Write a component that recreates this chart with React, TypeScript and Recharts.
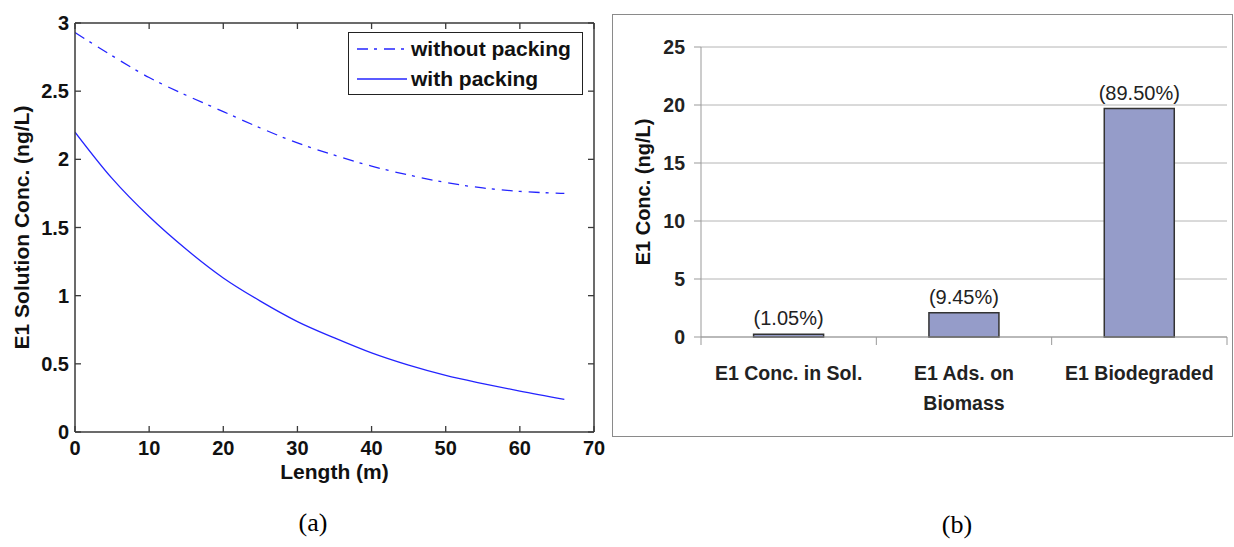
import React from "react";
import {
  Bar,
  BarChart,
  CartesianGrid,
  Label,
  LabelList,
  Legend,
  Line,
  LineChart,
  XAxis,
  YAxis,
} from "recharts";

// (a) concentration along the column
const lengthM = [0, 5, 10, 15, 20, 25, 30, 35, 40, 45, 50, 55, 60, 66];
const withoutPacking = [2.93, 2.76, 2.6, 2.47, 2.35, 2.23, 2.12, 2.03, 1.95, 1.885, 1.83, 1.79, 1.765, 1.75];
const withPacking = [2.2, 1.86, 1.58, 1.34, 1.13, 0.96, 0.81, 0.69, 0.58, 0.49, 0.415, 0.355, 0.3, 0.24];
const lengthTicks = [0, 10, 20, 30, 40, 50, 60, 70];
const concTicks = [0, 0.5, 1, 1.5, 2, 2.5, 3];
const seriesOrder = ["without", "with"];

// (b) mass balance ("\n" = line break in the axis label)
const categories = ["E1 Conc. in Sol.", "E1 Ads. on\nBiomass", "E1 Biodegraded"];
const e1Conc = [0.23, 2.08, 19.69];
const shareLabels = ["(1.05%)", "(9.45%)", "(89.50%)"];
const barTicks = [0, 5, 10, 15, 20, 25];

const lineData = lengthM.map((length, i) => ({
  length,
  without: withoutPacking[i],
  with: withPacking[i],
}));

const barData = categories.map((name, i) => ({
  name,
  value: e1Conc[i],
  share: shareLabels[i],
}));

const FONT = "Arial, 'Liberation Sans', Helvetica, sans-serif";
const AXIS = "#3a3a3a";
const BLUE = "#2424ff";
const DASH = "11 6 3 7";
const BAND = 526 / 3;

// matlab-style frame: tick marks point into the plot (negative tickSize),
// labels pushed back out with tickMargin
const inwardLine = { stroke: AXIS, strokeWidth: 1.3 };
const frameLine = { stroke: AXIS, strokeWidth: 1.5 };
const tickFont = { fontFamily: FONT, fontWeight: "bold", fontSize: 20, fill: "#111" };

function EmptyTick() {
  return <g />;
}

function PackingLegend({ payload }: any) {
  const items = [...(payload || [])].sort(
    (a: any, b: any) => seriesOrder.indexOf(a.dataKey) - seriesOrder.indexOf(b.dataKey),
  );
  return (
    <div
      style={{
        width: 235,
        height: 63,
        boxSizing: "border-box",
        border: "1.5px solid #222",
        background: "#fff",
        padding: "1px 0 0 8px",
      }}
    >
      {items.map((entry: any) => (
        <div key={entry.value} style={{ display: "flex", alignItems: "center", height: 30 }}>
          <svg width={50} height={10} style={{ marginRight: 4 }}>
            <line
              x1={0}
              x2={50}
              y1={5}
              y2={5}
              stroke={BLUE}
              strokeWidth={1.3}
              strokeDasharray={entry.payload?.strokeDasharray}
            />
          </svg>
          <span style={{ fontFamily: FONT, fontWeight: "bold", fontSize: 21, color: "#111" }}>{entry.value}</span>
        </div>
      ))}
    </div>
  );
}

function VerticalTitle({ viewBox, value, dx, size }: any) {
  const vb = viewBox || { x: 0, y: 0, width: 0, height: 0 };
  const cx = vb.x + dx;
  const cy = vb.y + vb.height / 2;
  return (
    <text
      x={cx}
      y={cy}
      transform={`rotate(-90 ${cx} ${cy})`}
      textAnchor="middle"
      dominantBaseline="central"
      fontFamily={FONT}
      fontWeight="bold"
      fontSize={size}
      fill="#111"
    >
      {value}
    </text>
  );
}

function LengthTitle({ viewBox }: any) {
  const vb = viewBox || { x: 0, y: 0, width: 0, height: 0 };
  return (
    <text x={vb.x + vb.width / 2} y={vb.y + 47} textAnchor="middle" fontFamily={FONT} fontWeight="bold" fontSize={21} fill="#111">
      Length (m)
    </text>
  );
}

function CategoryTick({ x, y, payload, index }: any) {
  const lines = String(payload.value).split("\n");
  return (
    <g>
      <line x1={x + BAND / 2} x2={x + BAND / 2} y1={y} y2={y + 8} stroke="#999" />
      {index === 0 && <line x1={x - BAND / 2} x2={x - BAND / 2} y1={y} y2={y + 8} stroke="#999" />}
      <text x={x} y={y + 43} textAnchor="middle" fontFamily={FONT} fontWeight="bold" fontSize={19.5} fill="#222">
        {lines.map((ln, i) => (
          <tspan key={i} x={x} dy={i === 0 ? 0 : 30}>
            {ln}
          </tspan>
        ))}
      </text>
    </g>
  );
}

export default function App() {
  return (
    <div style={{ position: "absolute", left: 0, top: 0, width: 1234, height: 547, background: "#fff", overflow: "hidden" }}>
      <div style={{ position: "absolute", left: 0, top: 0 }}>
        <LineChart width={610} height={500} data={lineData} margin={{ top: 22, right: 15, bottom: 0, left: 0 }}>
          <XAxis
            xAxisId="b"
            dataKey="length"
            type="number"
            domain={[0, 70]}
            ticks={lengthTicks}
            allowDataOverflow
            interval={0}
            height={68}
            tickSize={-6}
            tickMargin={9}
            tickLine={inwardLine}
            axisLine={frameLine}
            tick={{ ...tickFont, dy: 6 }}
          >
            <Label content={<LengthTitle />} />
          </XAxis>
          <XAxis
            xAxisId="t"
            orientation="top"
            dataKey="length"
            type="number"
            domain={[0, 70]}
            ticks={lengthTicks}
            allowDataOverflow
            interval={0}
            height={1}
            tickSize={-6}
            tickLine={inwardLine}
            axisLine={frameLine}
            tick={<EmptyTick />}
          />
          <YAxis
            yAxisId="l"
            type="number"
            domain={[0, 3]}
            ticks={concTicks}
            allowDataOverflow
            interval={0}
            width={75}
            tickSize={-6}
            tickMargin={12}
            tickLine={inwardLine}
            axisLine={frameLine}
            tick={tickFont}
          >
            <Label content={<VerticalTitle value="E1 Solution Conc. (ng/L)" dx={21} size={21} />} />
          </YAxis>
          <YAxis
            yAxisId="r"
            orientation="right"
            type="number"
            domain={[0, 3]}
            ticks={concTicks}
            allowDataOverflow
            interval={0}
            width={1}
            tickSize={-6}
            tickLine={inwardLine}
            axisLine={frameLine}
            tick={<EmptyTick />}
          />
          <Legend
            layout="vertical"
            align="center"
            verticalAlign="middle"
            content={<PackingLegend />}
            wrapperStyle={{ position: "absolute", left: 348, top: 32, width: 235 }}
          />
          <Line
            xAxisId="b"
            yAxisId="l"
            name="without packing"
            dataKey="without"
            type="monotone"
            stroke={BLUE}
            strokeWidth={1.3}
            strokeDasharray={DASH}
            dot={false}
            isAnimationActive={false}
          />
          <Line
            xAxisId="b"
            yAxisId="l"
            name="with packing"
            dataKey="with"
            type="monotone"
            stroke={BLUE}
            strokeWidth={1.3}
            dot={false}
            isAnimationActive={false}
          />
        </LineChart>
      </div>

      <div
        style={{
          position: "absolute",
          left: 612,
          top: 14,
          width: 621,
          height: 423,
          boxSizing: "border-box",
          border: "1.5px solid #8a8a8a",
        }}
      />
      <div style={{ position: "absolute", left: 613, top: 15 }}>
        <BarChart width={620} height={422} data={barData} margin={{ top: 32, right: 6, bottom: 0, left: 0 }} barCategoryGap="30%">
          <CartesianGrid vertical={false} stroke="#b4b4b4" />
          <XAxis
            dataKey="name"
            height={100}
            interval={0}
            tickSize={0}
            tickMargin={0}
            tickLine={false}
            axisLine={{ stroke: "#999" }}
            tick={<CategoryTick />}
          />
          <YAxis
            type="number"
            domain={[0, 25]}
            ticks={barTicks}
            interval={0}
            width={88}
            tickSize={7}
            tickMargin={9}
            axisLine={{ stroke: "#999" }}
            tickLine={{ stroke: "#999" }}
            tick={{ fontFamily: FONT, fontWeight: "bold", fontSize: 19.5, fill: "#222" }}
          >
            <Label content={<VerticalTitle value="E1 Conc. (ng/L)" dx={30} size={20} />} />
          </YAxis>
          <Bar dataKey="value" fill="#959cc9" stroke="#333" strokeWidth={1.5} isAnimationActive={false}>
            <LabelList dataKey="share" position="top" offset={9} fill="#222" fontSize={20} fontFamily={FONT} />
          </Bar>
        </BarChart>
      </div>

      <div style={{ position: "absolute", left: 293, top: 507, width: 40, textAlign: "center", fontFamily: "'Times New Roman', 'Liberation Serif', serif", fontSize: 26, lineHeight: "32px" }}>
        (a)
      </div>
      <div style={{ position: "absolute", left: 937, top: 509, width: 40, textAlign: "center", fontFamily: "'Times New Roman', 'Liberation Serif', serif", fontSize: 26, lineHeight: "32px" }}>
        (b)
      </div>
    </div>
  );
}
